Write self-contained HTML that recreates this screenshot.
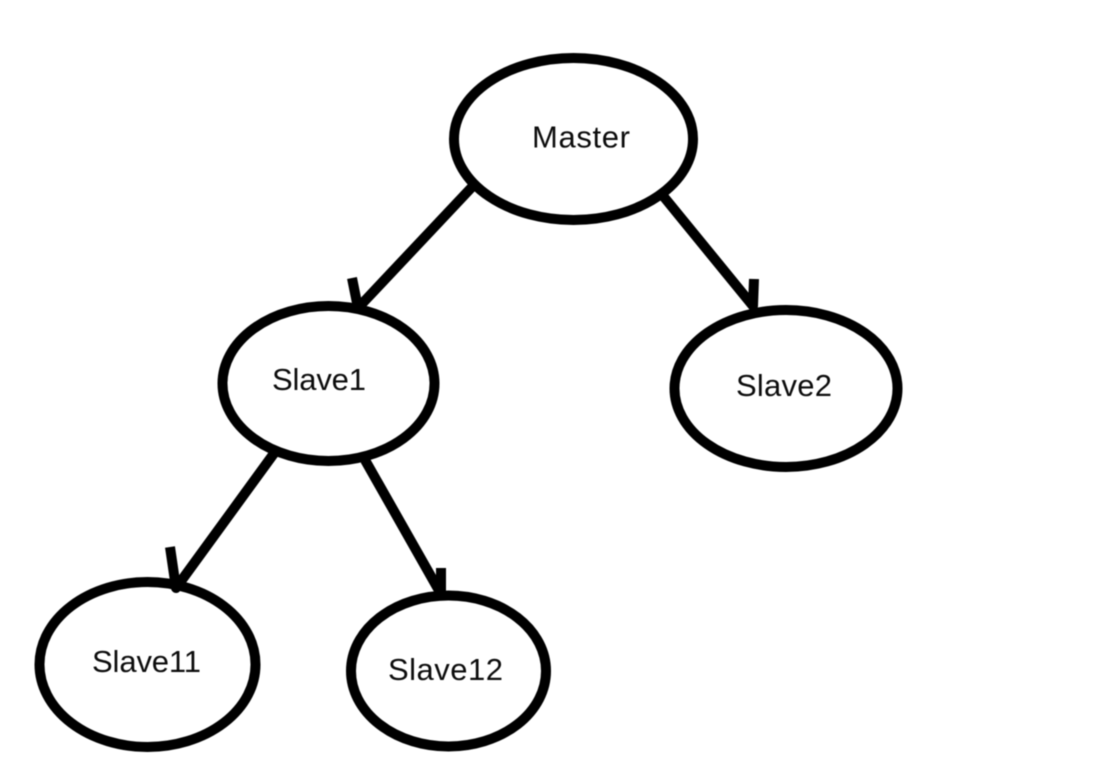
<!DOCTYPE html>
<html>
<head>
<meta charset="utf-8">
<style>
html,body{margin:0;padding:0;background:#fff;width:1110px;height:780px;overflow:hidden}
svg{display:block;filter:blur(0.5px)}
text{font-family:"Liberation Sans",sans-serif;font-size:31px;fill:#0c0c0c}
</style>
</head>
<body>
<svg width="1110" height="780" viewBox="0 0 1110 780" xmlns="http://www.w3.org/2000/svg">
<g fill="none" stroke="#000" stroke-width="10" stroke-linecap="butt" stroke-linejoin="round">
<ellipse cx="573.5" cy="139" rx="119.5" ry="81"/>
<ellipse cx="328.5" cy="383.5" rx="106" ry="77.5"/>
<ellipse cx="786" cy="388.5" rx="111.5" ry="78.5"/>
<ellipse cx="147.5" cy="664.5" rx="108" ry="82.5"/>
<ellipse cx="448.5" cy="671" rx="97.5" ry="75.5"/>
<path d="M472 187 L358 308 L352 278"/>
<path d="M664 197 L753 306 L754 279"/>
<path d="M275 452 L176 588 L170 547"/>
<path d="M365 460 L441 594 L441 568"/>
</g>
<text x="532" y="147.5" textLength="98" lengthAdjust="spacing">Master</text>
<text x="272" y="390" textLength="94" lengthAdjust="spacing">Slave1</text>
<text x="736" y="396" textLength="96" lengthAdjust="spacing">Slave2</text>
<text x="92" y="672" textLength="109" lengthAdjust="spacing">Slave11</text>
<text x="388" y="680" textLength="115" lengthAdjust="spacing">Slave12</text>
</svg>
</body>
</html>
